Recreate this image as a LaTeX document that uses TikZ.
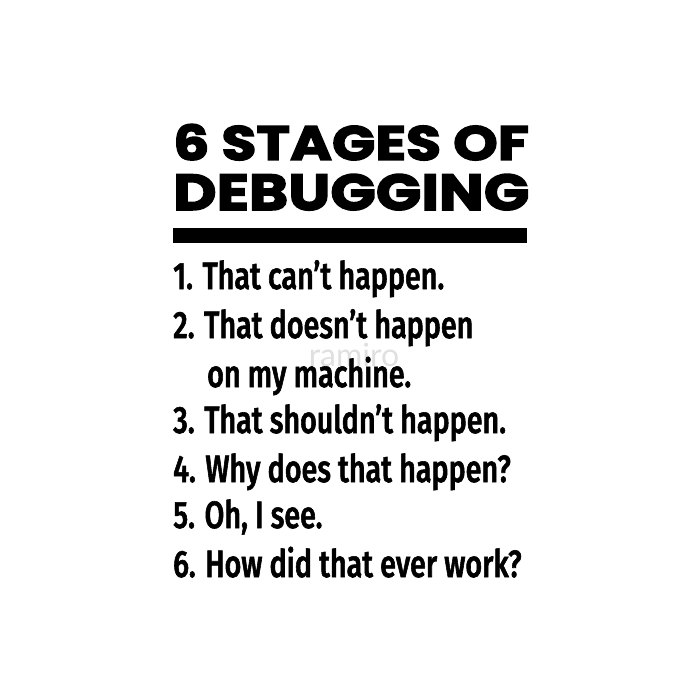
\documentclass[tikz,border=0pt]{standalone}
\usepackage{fontspec}
\setmainfont{Fira Sans}
\newfontfamily\titlefont[FakeBold=3,FakeStretch=1.18]{Poppins Bold}
\newfontfamily\stagefont[FakeStretch=0.755,FakeBold=1.5]{Fira Sans Medium}
\newfontfamily\markfont{Lato}
\tikzset{
  title/.style={anchor=base west, inner sep=0pt, font=\titlefont\fontsize{#1}{#1}\selectfont},
  stage/.style={anchor=base west, inner sep=0pt, font=\stagefont\fontsize{38}{38}\selectfont},
}
\begin{document}
\begin{tikzpicture}[x=1pt,y=-1pt]
  \useasboundingbox[fill=white] (0,0) rectangle (700,700);
  % heading
  \node[title=48.2] (head1) at (173,160) {6 STAGES OF};
  \node[title=50.6] (head2) at (173,210) {DEBUGGING};
  \fill (173,228) rectangle (527,243);
  % watermark
  \node[anchor=base, inner sep=0pt, text=black!12, font=\markfont\fontsize{32}{32}\selectfont] (mark) at (354,366) {ramiro};
  % the six stages
  \node[stage] (s1) at (173,289) {1. That can’t happen.};
  \node[stage] (s2) at (173,338) {2. That doesn’t happen};
  \node[stage] (s2b) at (207,387) {on my machine.};
  \node[stage] (s3) at (173,433) {3. That shouldn’t happen.};
  \node[stage] (s4) at (173,482) {4. Why does that happen?};
  \node[stage] (s5) at (173,528) {5. Oh, I see.};
  \node[stage] (s6) at (173,577) {6. How did that ever work?};
\end{tikzpicture}
\end{document}
